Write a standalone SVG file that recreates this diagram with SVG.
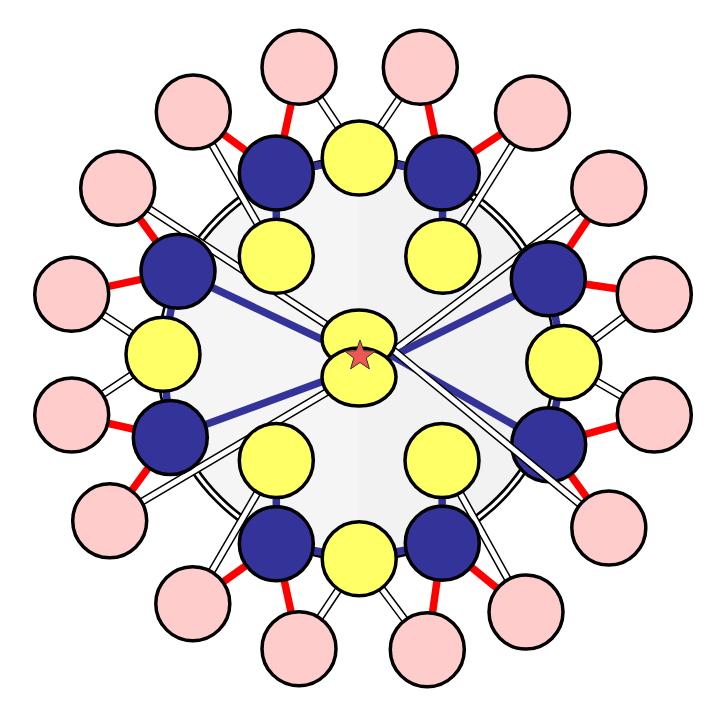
<svg xmlns="http://www.w3.org/2000/svg" width="719" height="719" viewBox="0 0 719 719">
<defs>
<linearGradient id="bg" x1="0" y1="0" x2="1" y2="0">
<stop offset="0.5" stop-color="#f5f5f5"/>
<stop offset="0.5" stop-color="#f2f2f2"/>
</linearGradient>
<style>
.red{stroke:#ff0000;stroke-width:7.5;fill:none}
.blu{stroke:#333399;stroke-width:7.5;fill:none}
.wo{stroke:#000;stroke-width:8;fill:none}
.wi{stroke:#fff;stroke-width:5;fill:none}
.pk{fill:#ffcccc;stroke:#000;stroke-width:3.5}
.nv{fill:#333399;stroke:#000;stroke-width:3.5}
.yl{fill:#ffff66;stroke:#000;stroke-width:3.5}
</style>
</defs>
<rect width="719" height="719" fill="#fff"/>
<g id="ring">
<circle cx="359" cy="359" r="198.5" fill="url(#bg)" stroke="#000" stroke-width="8.5"/>
<circle cx="359" cy="359" r="198.5" fill="none" stroke="#fff" stroke-width="3.2"/>
</g>
<g id="connectors">
<g id="white-bonds">
<path class="wo" d="M299,67.3L359.2,158M420.3,67.3L359.2,158M193.3,112L276.3,256.3M532.5,113L442.8,256.3M71.7,294.3L163,354.2M71.7,415L163,354.2M654.3,294.3L563.8,362.5M654.3,415L563.8,362.5M192.8,603.7L276.3,460.5M299,648.7L359.2,558.7M427.3,649.7L359.2,558.7M526,612L442,460.5M117.7,188.3L359,346M109.7,520.8L359,373M608.8,188.3L359,377"/>
<path class="wi" d="M299,67.3L359.2,158M420.3,67.3L359.2,158M193.3,112L276.3,256.3M532.5,113L442.8,256.3M71.7,294.3L163,354.2M71.7,415L163,354.2M654.3,294.3L563.8,362.5M654.3,415L563.8,362.5M192.8,603.7L276.3,460.5M299,648.7L359.2,558.7M427.3,649.7L359.2,558.7M526,612L442,460.5M117.7,188.3L359,346M109.7,520.8L359,373M608.8,188.3L359,377"/>
</g>
<path id="blue-bonds" class="blu" d="M276.3,173L359.2,158M442.3,173L359.2,158M276.3,173L276.3,256.3M442.3,173L442.8,256.3M178,271.3L163,354.2M170.3,437.5L163,354.2M548.3,278.7L563.8,362.5M548.7,444.7L563.8,362.5M276.3,543.8L276.3,460.5M276.3,543.8L359.2,558.7M442.3,543.3L359.2,558.7M442.3,543.3L442,460.5M178,271.3L359,357M170.3,437.5L359,368M548.3,278.7L359,373M548.7,444.7L359,337"/>
<path id="red-bonds" class="red" d="M276.3,173L299,67.3M276.3,173L193.3,112M442.3,173L420.3,67.3M442.3,173L532.5,113M178,271.3L117.7,188.3M178,271.3L71.7,294.3M548.3,278.7L608.8,188.3M548.3,278.7L654.3,294.3M170.3,437.5L71.7,415M170.3,437.5L109.7,520.8M548.7,444.7L654.3,415M548.7,444.7L608.8,528M276.3,543.8L192.8,603.7M276.3,543.8L299,648.7M442.3,543.3L427.3,649.7M442.3,543.3L526,612"/>
</g>
<g id="pink-nodes">
<circle id="p1" class="pk" cx="299" cy="67.3" r="37"/>
<circle id="p2" class="pk" cx="420.3" cy="67.3" r="37"/>
<circle id="p3" class="pk" cx="193.3" cy="112" r="37"/>
<circle id="p4" class="pk" cx="532.5" cy="113" r="37"/>
<circle id="p5" class="pk" cx="117.7" cy="188.3" r="37"/>
<circle id="p6" class="pk" cx="608.8" cy="188.3" r="37"/>
<circle id="p7" class="pk" cx="71.7" cy="294.3" r="37"/>
<circle id="p8" class="pk" cx="654.3" cy="294.3" r="37"/>
<circle id="p9" class="pk" cx="71.7" cy="415" r="37"/>
<circle id="p10" class="pk" cx="654.3" cy="415" r="37"/>
<circle id="p11" class="pk" cx="109.7" cy="520.8" r="37"/>
<circle id="p13" class="pk" cx="192.8" cy="603.7" r="37"/>
<circle id="p14" class="pk" cx="526" cy="612" r="37"/>
<circle id="p15" class="pk" cx="299" cy="648.7" r="37"/>
<circle id="p16" class="pk" cx="427.3" cy="649.7" r="37"/>
</g>
<g id="yellow-nodes">
<circle id="y1" class="yl" cx="359.2" cy="158" r="37"/>
<circle id="y2" class="yl" cx="276.3" cy="256.3" r="37"/>
<circle id="y3" class="yl" cx="442.8" cy="256.3" r="37"/>
<circle id="y4" class="yl" cx="163" cy="354.2" r="37"/>
<circle id="y5" class="yl" cx="563.8" cy="362.5" r="37"/>
<circle id="y6" class="yl" cx="276.3" cy="460.5" r="37"/>
<circle id="y7" class="yl" cx="442" cy="460.5" r="37"/>
<circle id="y8" class="yl" cx="359.2" cy="558.7" r="37"/>
</g>
<g id="navy-nodes">
<circle id="b1" class="nv" cx="276.3" cy="173" r="37"/>
<circle id="b2" class="nv" cx="442.3" cy="173" r="37"/>
<circle id="b3" class="nv" cx="178" cy="271.3" r="37"/>
<circle id="b4" class="nv" cx="548.3" cy="278.7" r="37"/>
<circle id="b5" class="nv" cx="170.3" cy="437.5" r="37"/>
<circle id="b6" class="nv" cx="548.7" cy="444.7" r="37"/>
<circle id="b7" class="nv" cx="276.3" cy="543.8" r="37"/>
<circle id="b8" class="nv" cx="442.3" cy="543.3" r="37"/>
</g>
<g id="connector-over">
<path class="wo" d="M608.8,528L359,322"/>
<path class="wi" d="M608.8,528L359,322"/>
</g>
<g id="pink-node-12">
<circle id="p12" class="pk" cx="608.8" cy="528" r="37"/>
</g>
<g id="center">
<ellipse id="c1" class="yl" cx="359" cy="339" rx="37" ry="29"/>
<ellipse id="c2" class="yl" cx="359" cy="377" rx="37" ry="29"/>
<polygon id="star" points="360,340 363.8,350.7 375.2,351.1 366.2,358 369.4,368.9 360,362.5 350.6,368.9 353.8,358 344.8,351.1 356.2,350.7" fill="#ee5555" stroke="#333" stroke-width="1"/>
</g>
</svg>
